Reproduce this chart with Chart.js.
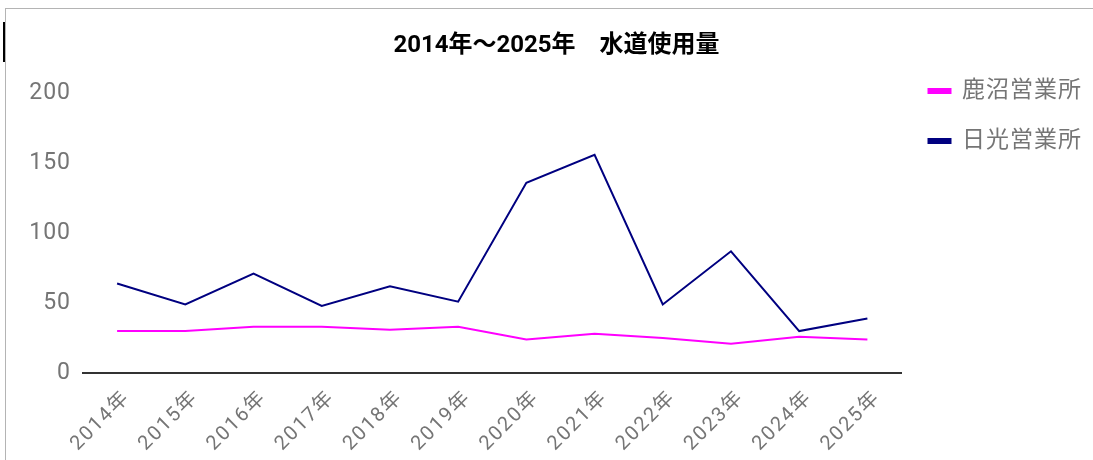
<!DOCTYPE html>
<html>
<head>
<meta charset="utf-8">
<script src="https://cdn.jsdelivr.net/npm/chart.js@4.4.0/dist/chart.umd.min.js"></script>
<style>
html,body{margin:0;padding:0;background:#fff;overflow:hidden}
#wrap{position:relative;width:1093px;height:460px;overflow:hidden}
#frame{position:absolute;left:5px;top:8px;width:1200px;height:600px;border-left:1px solid #b4b4b4;border-top:1px solid #b4b4b4}
#cursor{position:absolute;left:3px;top:22px;width:2px;height:40px;background:#000}
canvas{position:absolute;left:0;top:0}
</style>
</head>
<body>
<div id="wrap"><div id="frame"></div><div id="cursor"></div><canvas id="c" width="1093" height="460"></canvas></div>
<script>
const categories = ['2014年','2015年','2016年','2017年','2018年','2019年','2020年','2021年','2022年','2023年','2024年','2025年'];
const kanumaValues = [30, 30, 33, 33, 31, 33, 24, 28, 25, 21, 26, 24];
const nikkoValues  = [64, 49, 71, 48, 62, 51, 136, 156, 49, 87, 30, 39];
const yTicks = [0, 50, 100, 150, 200];
const seriesNames = ['鹿沼営業所', '日光営業所'];
const titleText = '2014年〜2025年　水道使用量';

const FONT = "Roboto, 'Noto Sans CJK JP', sans-serif";
const GRAY = '#757575';

function withSpacing(obj, method, sp) {
  const orig = obj[method];
  obj[method] = function (...args) {
    const ctx = this.ctx;
    const prev = ctx.letterSpacing;
    ctx.letterSpacing = sp;
    const r = orig.apply(this, args);
    ctx.letterSpacing = prev;
    return r;
  };
}

const spacingPlugin = {
  id: 'spacing',
  afterLayout(chart) {
    if (chart._spacingPatched) return;
    chart._spacingPatched = true;
    withSpacing(chart.scales.x, 'drawLabels', '2px');
    withSpacing(chart.scales.y, 'drawLabels', '1px');
    withSpacing(chart.legend, 'draw', '1px');
  }
};

new Chart(document.getElementById('c'), {
  type: 'line',
  data: {
    labels: categories,
    datasets: [
      { label: seriesNames[0], data: kanumaValues, borderColor: '#ff00ff', backgroundColor: '#ff00ff', borderWidth: 2, pointRadius: 0, tension: 0 },
      { label: seriesNames[1], data: nikkoValues, borderColor: '#000080', backgroundColor: '#000080', borderWidth: 2, pointRadius: 0, tension: 0 }
    ]
  },
  plugins: [spacingPlugin],
  options: {
    responsive: false,
    animation: false,
    devicePixelRatio: 1,
    layout: { padding: { left: 26, right: 6, top: 0, bottom: 0 } },
    plugins: {
      title: {
        display: true,
        text: titleText,
        color: '#000',
        font: { family: FONT, size: 24, weight: 'bold' },
        padding: { top: 31.6, bottom: 32.9 }
      },
      legend: {
        display: true,
        position: 'right',
        align: 'start',
        title: { display: true, text: ' ', font: { size: 10 }, padding: { top: 40.5, bottom: 0 } },
        labels: {
          boxWidth: 22,
          boxHeight: 4,
          padding: 27,
          color: GRAY,
          font: { family: FONT, size: 23 }
        }
      },
      tooltip: { enabled: false }
    },
    scales: {
      x: {
        offset: true,
        grid: { display: false, drawTicks: false },
        border: { display: true, color: '#333333', width: 2 },
        ticks: { color: GRAY, font: { family: FONT, size: 20 }, minRotation: 45, maxRotation: 45, autoSkip: false, padding: 13, labelOffset: 10 },
        afterFit: s => { s.height = 87; }
      },
      y: {
        min: 0,
        max: 200,
        grid: { display: false, drawTicks: false },
        border: { display: false },
        ticks: { color: GRAY, font: { family: FONT, size: 23 }, padding: 12 },
        afterBuildTicks: s => { s.ticks = yTicks.map(v => ({ value: v })); },
        afterFit: s => { s.width = 57; }
      }
    }
  }
});
</script>
</body>
</html>
